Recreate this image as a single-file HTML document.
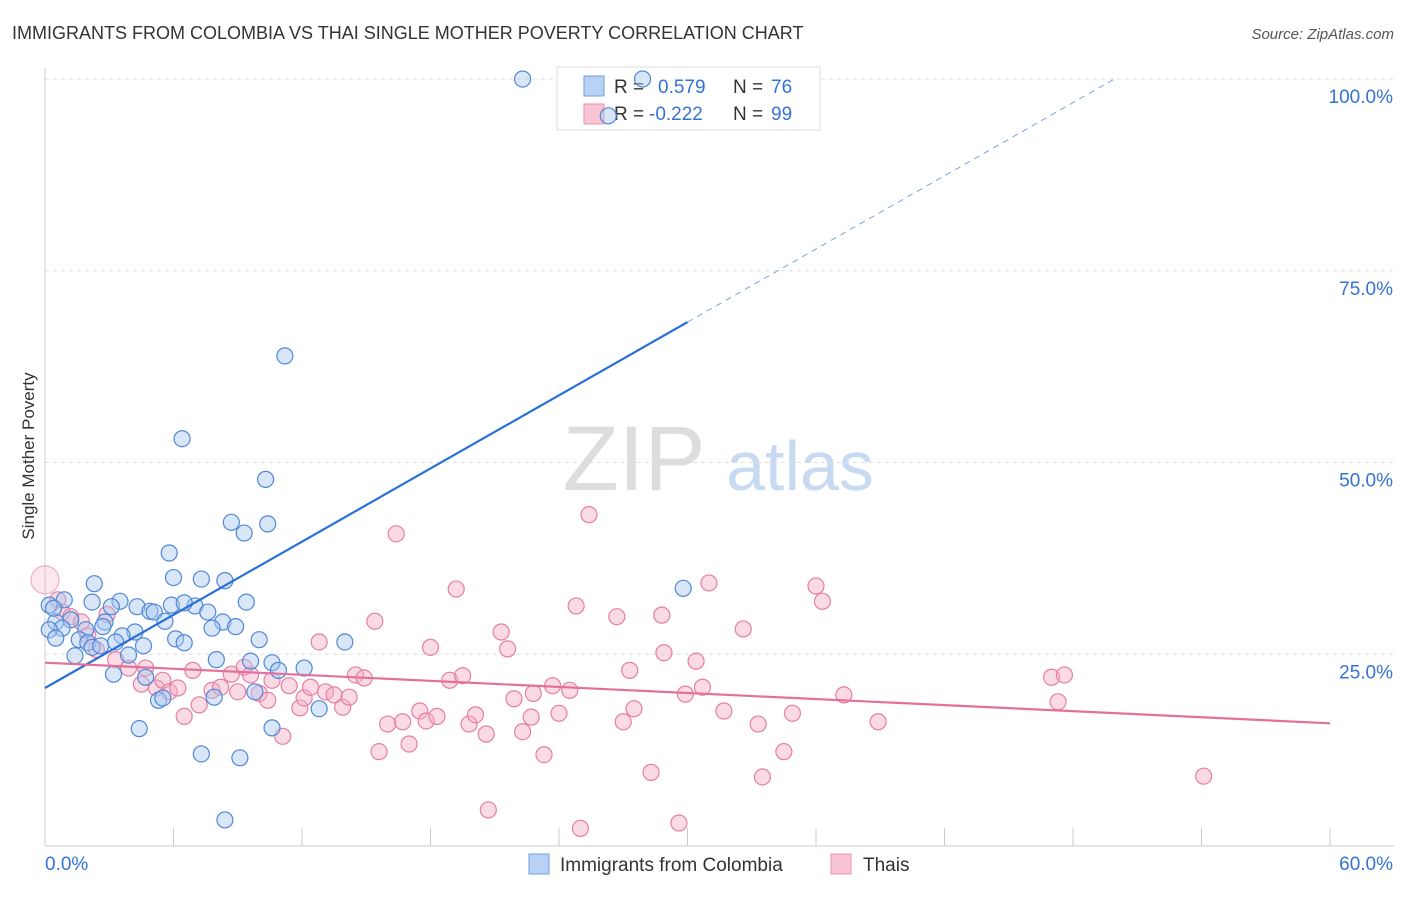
<!DOCTYPE html>
<html><head><meta charset="utf-8"><style>
body{margin:0;background:#fff;font-family:"Liberation Sans",sans-serif;}
svg text{font-family:"Liberation Sans",sans-serif;}
</style></head><body>
<svg id="chart" width="1406" height="892" xmlns="http://www.w3.org/2000/svg">
<text x="12" y="39" font-size="18" fill="#333">IMMIGRANTS FROM COLOMBIA VS THAI SINGLE MOTHER POVERTY CORRELATION CHART</text>
<text x="1394" y="39" font-size="15" fill="#555" font-style="italic" text-anchor="end">Source: ZipAtlas.com</text>
<text transform="translate(34,456) rotate(-90)" font-size="17" fill="#333" text-anchor="middle">Single Mother Poverty</text>
<g><text x="634" y="490" font-size="92" fill="#ddd" font-family="Liberation Serif" text-anchor="middle">ZIP</text><text x="800" y="490" font-size="70" fill="#c8daf2" text-anchor="middle">atlas</text></g>
<g id="grid"></g>
<g>
<rect x="557" y="67" width="263" height="63" fill="#fff" stroke="#ddd"/>
<rect x="584" y="76" width="20" height="20" fill="#b8d2f4" stroke="#6e9ee0"/>
<rect x="584" y="104" width="20" height="20" fill="#f8c4d4" stroke="#ec8fae"/>
<text x="614" y="93" font-size="19" fill="#333">R =</text><text x="658" y="93" font-size="19" fill="#3572d6">0.579</text>
<text x="733" y="93" font-size="19" fill="#333">N =</text><text x="771" y="93" font-size="19" fill="#3572d6">76</text>
<text x="614" y="120" font-size="19" fill="#333">R =</text><text x="649" y="120" font-size="19" fill="#3572d6">-0.222</text>
<text x="733" y="120" font-size="19" fill="#333">N =</text><text x="771" y="120" font-size="19" fill="#3572d6">99</text>
</g>
<g id="marks"></g>
<g>
<rect x="529" y="854" width="20" height="20" fill="#b8d2f4" stroke="#6e9ee0"/>
<text x="560" y="871" font-size="19" fill="#333">Immigrants from Colombia</text>
<rect x="831" y="854" width="20" height="20" fill="#f8c4d4" stroke="#ec8fae"/>
<text x="863" y="871" font-size="19" fill="#333">Thais</text>
</g>
</svg>
<script>
const xTickLabels=["0.0%","60.0%"];
const yTicks=[25,50,75,100];
const yTickLabels=["25.0%","50.0%","75.0%","100.0%"];
const blueX=[22.3,27.9,26.3,11.2,6.4,10.3,8.7,10.4,9.3,5.8,6.0,7.3,8.4,2.3,29.8,5.9,7.0,4.3,3.5,2.2,9.4,6.5,3.1,0.9,0.2,4.9,7.6,5.1,5.6,8.3,2.8,1.2,0.5,7.8,8.9,0.8,0.2,1.9,2.7,4.2,3.6,6.1,0.5,1.6,10.0,14.0,6.5,2.0,3.3,2.2,4.6,2.6,3.9,1.4,8.0,9.6,10.6,12.1,10.9,3.2,4.7,9.8,7.9,5.3,5.5,12.8,4.4,10.6,7.3,9.1,8.4,0.4];
const blueY=[100,100,95.2,63.9,53.1,47.8,42.2,42.0,40.8,38.2,35.0,34.8,34.6,34.2,33.6,31.4,31.3,31.2,31.9,31.8,31.8,31.7,31.2,32.1,31.4,30.6,30.5,30.5,29.3,29.2,29.2,29.5,29.2,28.4,28.6,28.4,28.2,28.2,28.6,27.9,27.4,27.0,27.1,26.9,26.9,26.6,26.5,26.5,26.6,25.9,26.1,26.1,24.9,24.8,24.3,24.1,23.9,23.2,22.9,22.4,22.0,20.1,19.4,19.0,19.3,17.9,15.3,15.4,12.0,11.5,3.4,31.0];
const pinkX=[0,0.6,0.8,1.2,1.7,2.9,2.0,2.4,3.3,3.9,4.7,4.5,5.2,5.5,5.8,6.2,6.5,6.9,7.2,7.8,8.2,8.7,9.0,9.3,9.6,10.0,10.4,10.6,11.1,11.4,11.9,12.1,12.4,12.8,13.1,13.5,13.9,14.2,14.5,14.9,15.4,15.6,16.0,16.4,16.7,17.0,17.5,17.8,18.0,18.3,18.9,19.2,19.5,19.8,20.1,20.6,20.7,21.3,21.6,21.9,22.3,22.7,22.8,23.3,23.7,24.0,24.5,24.8,25.0,25.4,26.7,27.0,27.3,27.5,28.3,28.8,28.9,29.6,29.9,30.4,30.7,31.0,31.7,32.6,33.3,33.5,34.5,34.9,36.0,36.3,37.3,38.9,47.0,47.6,47.3,54.1];
const pinkY=[34.7,32.1,30.5,29.9,29.2,30.2,27.4,25.6,24.3,23.2,23.2,21.1,20.6,21.6,20.1,20.6,16.9,22.9,18.4,20.3,20.7,22.4,20.1,23.3,22.3,19.9,19.0,21.6,14.3,20.9,18.0,19.3,20.7,26.6,20.1,19.7,18.1,19.4,22.3,21.9,29.3,12.3,15.9,40.7,16.2,13.3,17.6,16.3,25.9,16.9,21.6,33.5,22.2,15.9,17.1,14.6,4.7,27.9,25.7,19.2,14.9,16.8,19.9,11.9,20.9,17.3,20.3,31.3,2.3,43.2,29.9,16.2,22.9,17.9,9.6,30.1,25.2,3.0,19.8,24.1,20.7,34.3,17.6,28.3,15.9,9.0,12.3,17.3,33.9,31.9,19.7,16.2,22.0,22.3,18.8,9.1];
const blueTrend=[20.6,1.59];
const pinkTrend=[23.9,-0.1317];
const X0=45,X1=1330,Y0=846,Y100=79;
const sx=v=>X0+(v/60)*(X1-X0);
const sy=v=>Y0-(v/100)*(Y0-Y100);
const NS="http://www.w3.org/2000/svg";
function mk(tag,attrs,parent){const e=document.createElementNS(NS,tag);for(const k in attrs)e.setAttribute(k,attrs[k]);parent.appendChild(e);return e;}
const grid=document.getElementById('grid'),marks=document.getElementById('marks');
yTicks.forEach((t,i)=>{
 const l=mk('line',{x1:X0,x2:1394,y1:sy(t),y2:sy(t),stroke:'#ddd','stroke-dasharray':'4,4'},grid);
 
 
 const tx=mk('text',{x:1393,y:sy(t)+24,'font-size':19,fill:'#3572d6','text-anchor':'end'},grid);
 tx.textContent=yTickLabels[i];
 
 
});
const ax=mk('line',{x1:X0,x2:X0,y1:68,y2:Y0,stroke:'#ccc'},grid);


const bx=mk('line',{x1:X0,x2:1394,y1:Y0,y2:Y0,stroke:'#ccc'},grid);


for(let i=0;i<=10;i++){const t=mk('line',{x1:sx(i*6),x2:sx(i*6),y1:828,y2:Y0,stroke:'#ccc'},grid);
 
 }
[[0,'start',45],[60,'end',1393]].forEach((a,i)=>{const t=mk('text',{x:a[2],y:870,'font-size':19,fill:'#3572d6','text-anchor':a[1]},grid);t.textContent=xTickLabels[i];
 
 });
function pts(xs,ys,fill,stroke,name){xs.forEach((x,i)=>{const big=(name==='thai-point'&&i===0);const r=big?14:8;
 const c=mk('circle',{cx:sx(x),cy:sy(ys[i]),r:r,fill:fill,'fill-opacity':big?0.3:0.45,stroke:stroke,'stroke-opacity':big?0.6:1,'stroke-width':1.2},marks);
 
 });}
pts(pinkX,pinkY,'#f4b0c6','#e67ea0','thai-point');
pts(blueX,blueY,'#a8c8f0','#4f88d8','colombia-point');
const bxEnd=30, bxDash=(100-blueTrend[0])/blueTrend[1];
const bl=mk('line',{x1:sx(0),y1:sy(blueTrend[0]),x2:sx(bxEnd),y2:sy(blueTrend[0]+blueTrend[1]*bxEnd),stroke:'#2a6fd8','stroke-width':2.2},marks);


const bd=mk('line',{x1:sx(bxEnd),y1:sy(blueTrend[0]+blueTrend[1]*bxEnd),x2:sx(bxDash),y2:sy(100),stroke:'#7aa4e0','stroke-width':1,'stroke-dasharray':'6,5'},marks);


const pl=mk('line',{x1:sx(0),y1:sy(pinkTrend[0]),x2:sx(60),y2:sy(pinkTrend[0]+pinkTrend[1]*60),stroke:'#e4709a','stroke-width':2.2},marks);


</script>
</body></html>
